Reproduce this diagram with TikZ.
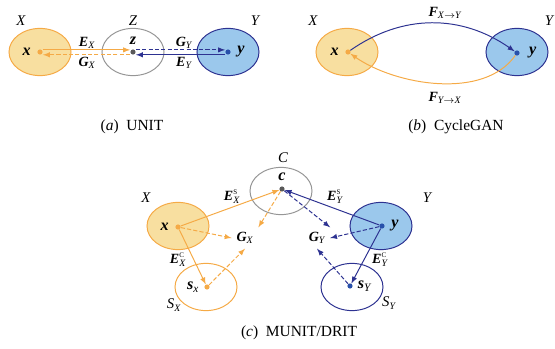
\documentclass[tikz,border=0pt]{standalone}
\usepackage{fontspec}
\setmainfont{Liberation Serif}
\usepackage{amsmath}
\usetikzlibrary{shapes,arrows,positioning,calc}

\definecolor{orgline}{RGB}{245,170,70}
\definecolor{orgfill}{RGB}{248,223,160}
\definecolor{bluline}{RGB}{45,50,145}
\definecolor{blufill}{RGB}{155,200,236}
\definecolor{bludot}{RGB}{40,80,170}
\definecolor{grayline}{RGB}{150,150,150}

\newcommand{\bi}[1]{\textbf{\textit{#1}}}
\newcommand{\tsup}[1]{\text{\fontsize{5}{6}\selectfont #1}}

\begin{document}
\begin{tikzpicture}[x=0.025cm, y=-0.025cm,
        >=latex,
        dombox/.style={ellipse, line width=0.7pt, minimum width=1.55cm, minimum height=1.18cm},
        xdom/.style={dombox, draw=orgline, fill=orgfill},
        ydom/.style={dombox, draw=bluline, fill=blufill},
        zdom/.style={dombox, draw=grayline},
        sxdom/.style={dombox, draw=orgline},
        sydom/.style={dombox, draw=bluline},
        dot/.style={circle, inner sep=0pt, minimum size=0.13cm},
        setlbl/.style={font=\fontsize{10.5}{12}\selectfont\itshape},
        ptlbl/.style={font=\fontsize{11.5}{12}\selectfont},
        maplbl/.style={font=\fontsize{10}{11}\selectfont},
        caplbl/.style={font=\fontsize{11}{13}\selectfont},
        oarr/.style={->, draw=orgline, line width=0.7pt},
        barr/.style={->, draw=bluline, line width=0.7pt},
        dsh/.style={dash pattern=on 3pt off 1.5pt}
    ]
    \useasboundingbox (0,0) rectangle (555,349);

    % (a) UNIT
    \node[xdom] (Xa) at (40,52) {};
    \node[zdom] (Za) at (133,52) {};
    \node[ydom] (Ya) at (228,52) {};
    \node[dot, fill=orgline] (xa) at (40,52) {};
    \node[dot, fill=black!65] (za) at (133,52) {};
    \node[dot, fill=bludot] (ya) at (228,52) {};
    \node[setlbl] at (21,21) {X};
    \node[setlbl] at (133,21) {Z};
    \node[setlbl] at (255,21) {Y};
    \node[ptlbl, left=1pt of xa] {\bi{x}};
    \node[ptlbl, above=0pt of za] {\bi{z}};
    \node[ptlbl, right=1pt of ya] {\bi{y}};

    \draw[oarr] ([yshift=1.5pt]xa.east) -- ([yshift=1.5pt]za.west);
    \draw[oarr, dsh] ([yshift=-2pt]za.west) -- ([yshift=-2pt]xa.east);
    \draw[barr, dsh] ([yshift=1.5pt]za.east) -- ([yshift=1.5pt]ya.west);
    \draw[barr] ([yshift=-2pt]ya.west) -- ([yshift=-2pt]za.east);
    \node[maplbl] at (87,43) {$\bi{E}_{\textit{X}}$};
    \node[maplbl] at (87,63) {$\bi{G}_{\textit{X}}$};
    \node[maplbl] at (184,43) {$\bi{G}_{\textit{Y}}$};
    \node[maplbl] at (184,63) {$\bi{E}_{\textit{Y}}$};
    \node[caplbl] at (132,127) {(\textit{a})\ \ UNIT};

    % (b) CycleGAN
    \node[xdom] (Xb) at (347,52) {};
    \node[ydom] (Yb) at (517,52) {};
    \node[dot, fill=orgline] (xb) at (348,52) {};
    \node[dot, fill=bludot] (yb) at (517,53) {};
    \node[setlbl] at (313,21) {X};
    \node[setlbl] at (549,21) {Y};
    \node[ptlbl, left=1pt of xb] {\bi{x}};
    \node[ptlbl, right=3pt of yb] {\bi{y}};

    \draw[barr] (xb) to[out=35, in=145] (yb);
    \draw[oarr] (yb) to[out=-125, in=-35, looseness=0.85] (xb);
    \node[maplbl] at (445,13) {$\bi{F}_{\textit{X}\to\textit{Y}}$};
    \node[maplbl] at (445,98) {$\bi{F}_{\textit{Y}\to\textit{X}}$};
    \node[caplbl] at (456,127) {(\textit{b})\ \ CycleGAN};

    % (c) MUNIT/DRIT
    \node[zdom] (Cc) at (281,191) {};
    \node[xdom] (Xc) at (178,226) {};
    \node[ydom] (Yc) at (381,226) {};
    \node[sxdom] (SXc) at (206,287) {};
    \node[sydom] (SYc) at (352,287) {};
    \node[dot, fill=black!65] (cc) at (282,189) {};
    \node[dot, fill=orgline] (xc) at (178,227) {};
    \node[dot, fill=bludot] (yc) at (382,226) {};
    \node[dot, fill=orgline] (sx) at (207,287) {};
    \node[dot, fill=bludot] (sy) at (350,286) {};
    \node[maplbl] (gx) at (245,238) {$\bi{G}_{\textit{X}}$};
    \node[maplbl] (gy) at (317,238) {$\bi{G}_{\textit{Y}}$};

    \node[setlbl] at (283,158) {C};
    \node[setlbl] at (146,198) {X};
    \node[setlbl] at (427,198) {Y};
    \node[setlbl] at (174,305) {S\textsubscript{\scriptsize X}};
    \node[setlbl] at (389,303) {S\textsubscript{\scriptsize Y}};
    \node[ptlbl, above=0pt of cc] {\bi{c}};
    \node[ptlbl, left=1pt of xc] {\bi{x}};
    \node[ptlbl, right=1pt of yc] {\bi{y}};
    \node[ptlbl, left=0pt of sx] {$\bi{s}_{\textit{x}}$};
    \node[ptlbl, right=0pt of sy] {$\bi{s}_{\textit{Y}}$};

    \draw[oarr] (xc) -- (cc);
    \draw[oarr] (xc) -- (sx);
    \draw[oarr, dsh] (xc) -- (gx.west);
    \draw[oarr, dsh] (sx) -- (gx.south);
    \draw[oarr, dsh] (cc) -- (gx.north east);
    \draw[barr] (yc) -- (cc);
    \draw[barr] (yc) -- (sy);
    \draw[barr, dsh] (yc) -- (gy.east);
    \draw[barr, dsh] (sy) -- (gy.south);
    \draw[barr, dsh] (cc) -- (gy.north east);
    \node[maplbl] at (232,197) {$\bi{E}^{\tsup{S}}_{\textit{X}}$};
    \node[maplbl] at (178,260) {$\bi{E}^{\tsup{C}}_{\textit{X}}$};
    \node[maplbl] at (335,197) {$\bi{E}^{\tsup{S}}_{\textit{Y}}$};
    \node[maplbl] at (380,260) {$\bi{E}^{\tsup{C}}_{\textit{Y}}$};
    \node[caplbl] at (299,333) {(\textit{c})\ \ MUNIT/DRIT};
\end{tikzpicture}
\end{document}
